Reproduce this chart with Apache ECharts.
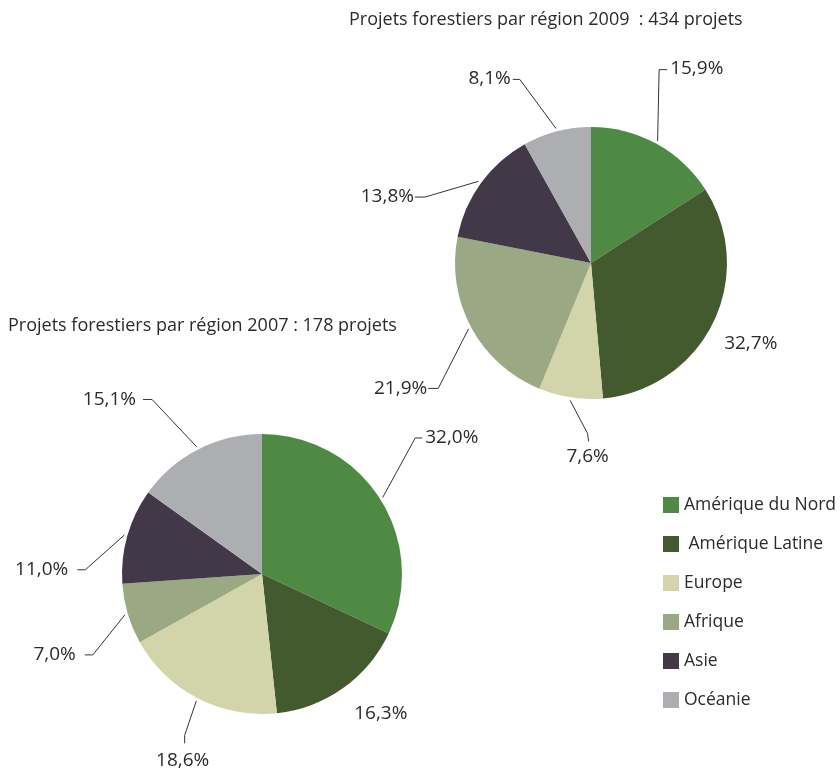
<!DOCTYPE html>
<html><head><meta charset="utf-8">
<script src="https://cdn.jsdelivr.net/npm/echarts@6/dist/echarts.min.js"></script>
<style>html,body{margin:0;padding:0;background:#fff}#c{width:840px;height:769px}</style>
</head><body><div id="c"></div>
<script>
// ---- data ----
const regions = ['Amérique du Nord', 'Amérique Latine', 'Europe', 'Afrique', 'Asie', 'Océanie'];
const values2009 = [15.9, 32.7, 7.6, 21.9, 13.8, 8.1];
const values2007 = [32.0, 16.3, 18.6, 7.0, 11.0, 15.1];
const title2009 = 'Projets forestiers par région 2009  : 434 projets';
const title2007 = 'Projets forestiers par région 2007 : 178 projets';

// ---- style ----
const colors = ['#4e8a43', '#425a2e', '#d2d5aa', '#9aa884', '#433848', '#adaeb2'];
const FONT = '"Open Sans", sans-serif';
const TXT = '#2b2b2b';

// pie geometry
const pies = [
  { values: values2009, cx: 591, cy: 263, r: 136 },
  { values: values2007, cx: 262, cy: 574, r: 140 }
];
// leader line layout relative to slice edge: [kneeDx,kneeDy,endDx,endDy,labelDx,labelDy,align,vAlign]
const leaders = [
  [
    [3, -74, 11, -74, 14, -75, 'left', 'middle'],
    [null, null, null, null, 11, 21, 'left', 'middle'],
    [17, 36, 18, 44, 17, 59, 'center', 'middle'],
    [-33, 61, -43, 61, -44, 61, 'right', 'middle'],
    [-56, 14, -66, 14, -67, 14, 'right', 'middle'],
    [-37, -52, -44, -52, -46, -53, 'right', 'middle']
  ],
  [
    [35, -61, 42, -61, 45, -61, 'left', 'middle'],
    [null, null, null, null, 11, 26, 'left', 'middle'],
    [-13, 37, -13, 45, -15, 62, 'center', 'middle'],
    [-35, 41, -43, 41, -52, 41, 'right', 'middle'],
    [-42, 34, -50, 34, -59, 34, 'right', 'middle'],
    [-46, -50, -55, -50, -62, -50, 'right', 'middle']
  ]
];

function edgePoint(p, i, extra) {
  const tot = p.values.reduce((a, b) => a + b, 0);
  let cum = 0;
  for (let j = 0; j < i; j++) cum += p.values[j];
  const a = (cum + p.values[i] / 2) / tot * Math.PI * 2;
  const rr = p.r + (extra || 0);
  return [p.cx + rr * Math.sin(a), p.cy - rr * Math.cos(a)];
}

function fmt(v) { return v.toFixed(1).replace('.', ',') + '%'; }

function makeSeries(idx) {
  const p = pies[idx];
  return {
    type: 'pie',
    center: [p.cx, p.cy],
    radius: p.r,
    startAngle: 90,
    clockwise: true,
    silent: true,
    animation: false,
    avoidLabelOverlap: false,
    itemStyle: { borderWidth: 0 },
    label: {
      show: true, position: 'outside',
      formatter: (q) => fmt(q.value),
      fontFamily: FONT, fontSize: 19, color: TXT
    },
    labelLine: { show: true, length: 10, length2: 5, lineStyle: { color: '#333', width: 1 } },
    labelLayout: function (params) {
      const L = leaders[idx][params.dataIndex];
      const e = edgePoint(p, params.dataIndex, 0);
      const out = {
        x: e[0] + L[4], y: e[1] + L[5], align: L[6], verticalAlign: L[7]
      };
      if (L[0] !== null) {
        const s = edgePoint(p, params.dataIndex, 3);
        out.labelLinePoints = [s, [e[0] + L[0], e[1] + L[1]], [e[0] + L[2], e[1] + L[3]]];
      }
      return out;
    },
    data: regions.map((name, i) => ({
      name: name,
      value: p.values[i],
      itemStyle: { color: colors[i] },
      labelLine: { show: leaders[idx][i][0] !== null }
    }))
  };
}

const chart = echarts.init(document.getElementById('c'), null, { renderer: 'canvas' });
chart.setOption({
  backgroundColor: '#ffffff',
  animation: false,
  title: [
    { text: title2009, left: 344, top: 6, textStyle: { fontFamily: FONT, fontSize: 18, fontWeight: 'normal', color: TXT } },
    { text: title2007, left: 3, top: 312, textStyle: { fontFamily: FONT, fontSize: 18, fontWeight: 'normal', color: TXT } }
  ],
  legend: {
    orient: 'vertical',
    left: 658, top: 491,
    icon: 'rect',
    itemWidth: 16, itemHeight: 16, itemGap: 21,
    selectedMode: false,
    data: regions,
    formatter: (n) => n === 'Amérique Latine' ? ' ' + n : n,
    textStyle: { fontFamily: FONT, fontSize: 17.5, color: TXT, lineHeight: 16 }
  },
  series: [makeSeries(0), makeSeries(1)]
});
</script>
</body></html>
